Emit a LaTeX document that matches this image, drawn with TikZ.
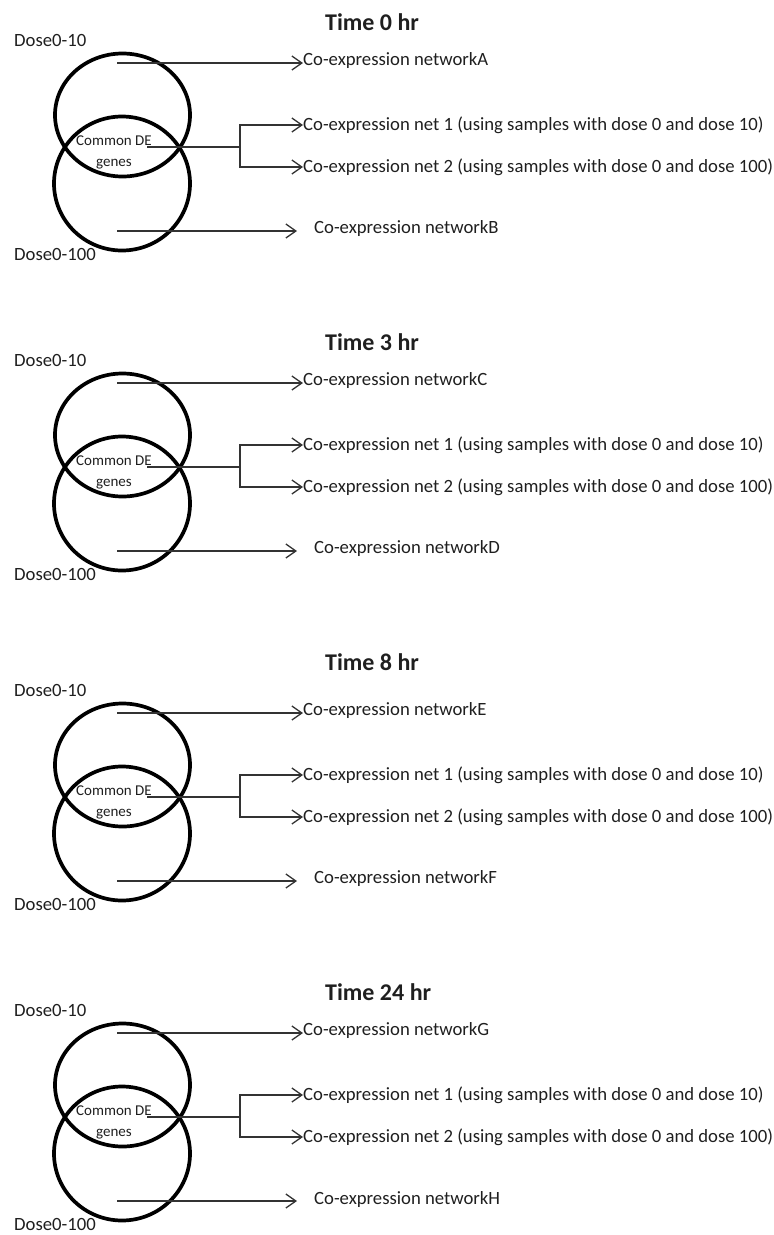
\documentclass[tikz,border=0pt]{standalone}
\usepackage{fontspec}
\setmainfont{Carlito}
\usetikzlibrary{arrows.meta,positioning,shapes.geometric}

\begin{document}
\begin{tikzpicture}[x=1pt,y=-1pt,
 every node/.style={inner sep=0pt,text=black!88},
 venn/.style={draw=black,line width=3.7pt,ellipse},
 lbl/.style={anchor=west,font=\fontsize{18.7}{20}\selectfont},
 inner/.style={align=center,font=\fontsize{15}{21}\selectfont},
 title/.style={anchor=west,font=\bfseries\fontsize{24}{28}\selectfont},
 arrow/.style={-{Straight Barb[length=10pt,width=14pt]},line width=1.3pt,draw=black!80}
]
\useasboundingbox (0,0) rectangle (774,1235);
\foreach \i/\hrs/\dy/\ty/\netl/\netr in {1/0/0/0/A/B,2/3/320/320/C/D,3/8/650/640/E/F,4/24/970/970/G/H}{
% one panel for each time point
\node[title] (time\i) at (325,22+\ty) {Time \hrs\ hr};
\node[lbl] (dlow\i) at (14,40+\dy) {Dose0-10};
\node[lbl] (dhigh\i) at (14,254+\dy) {Dose0-100};
\node[venn,minimum width=135pt,minimum height=123pt] (upper\i) at (122.5,115+\dy) {};
\node[venn,minimum width=136pt,minimum height=134pt] (lower\i) at (122,183.5+\dy) {};
\node[inner] (common\i) at (114,152.5+\dy) {Common DE\\genes};
\node[lbl] (neta\i) at (303,61+\dy) {Co-expression network\netl};
\node[lbl] (net1\i) at (303,125+\dy) {Co-expression net 1 (using samples with dose 0 and dose 10)};
\node[lbl] (net2\i) at (303,167+\dy) {Co-expression net 2 (using samples with dose 0 and dose 100)};
\node[lbl] (netb\i) at (314,229+\dy) {Co-expression network\netr};
\coordinate (froma\i) at (117,63+\dy);
\coordinate (fromb\i) at (117,231+\dy);
\coordinate (cde\i) at (147,147+\dy);
\coordinate (fork\i) at (240,147+\dy);
\draw[arrow] (froma\i) -- (froma\i -| neta\i.west);
\draw[arrow,shorten >=17pt] (fromb\i) -- (fromb\i -| netb\i.west);
\draw[arrow,-] (cde\i) -- (fork\i);
\draw[arrow] (fork\i) |- (net1\i.west);
\draw[arrow] (fork\i) |- (net2\i.west);
}
\end{tikzpicture}
\end{document}
